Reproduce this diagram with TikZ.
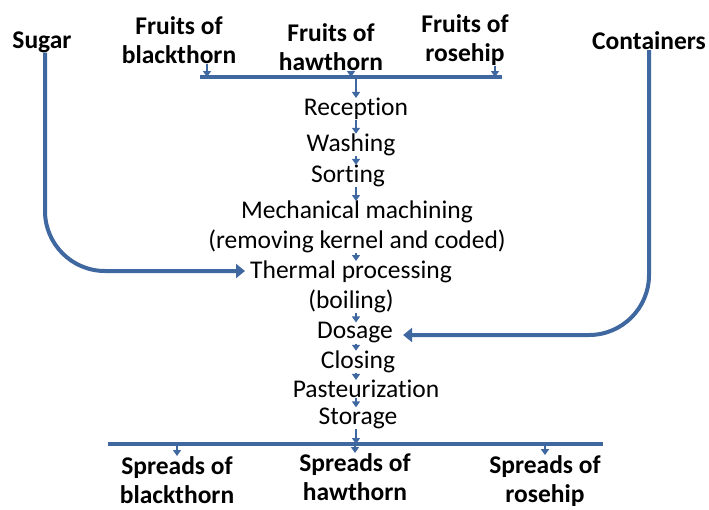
\documentclass[tikz,border=0pt]{standalone}
\usepackage{fontspec}
\setmainfont{Carlito}[Ligatures=NoCommon]
\usetikzlibrary{arrows.meta, positioning}
\definecolor{flowblue}{RGB}{64,104,160}
\tikzset{
  stage/.style={inner sep=0pt, align=center, font=\fontsize{25.5}{29.5}\selectfont},
  source/.style={stage, font=\fontsize{25.5}{29.5}\selectfont\bfseries},
  tick/.style={flowblue, line width=2.4pt, -{Triangle[length=6pt,width=8pt]}},
  bar/.style={flowblue, line width=4pt},
  feed/.style={flowblue, line width=4pt, rounded corners=60pt, -{Triangle[length=9pt,width=14pt]}},
}

\begin{document}
\begin{tikzpicture}[x=1pt, y=-1pt]
    \useasboundingbox (0,0) rectangle (709,509);

    % Raw materials
    \node[source] (sugar) at (42,42) {Sugar};
    \node[source] (fblack) at (179,40) {Fruits of\\blackthorn};
    \node[source] (fhaw) at (331,47) {Fruits of\\hawthorn};
    \node[source] (frose) at (465,40) {Fruits of\\rosehip};
    \node[source] (contain) at (649,41) {Containers};

    % Collecting bar
    \coordinate (topL) at (200,77);
    \coordinate (topR) at (502,77);
    \coordinate (spine) at (356,0);
    \draw[bar] (topL) -- (topR);
    \draw[tick] ([xshift=28pt]fblack.south) -- ([xshift=28pt]fblack.south |- topL);
    \draw[tick] ([xshift=20pt]fhaw.south) -- ([xshift=20pt]fhaw.south |- topL);
    \draw[tick] ([xshift=30pt]frose.south) -- ([xshift=30pt]frose.south |- topL);

    % Process steps
    \node[stage] (recept) at (356,109) {Reception};
    \node[stage] (wash) at (351,145) {Washing};
    \node[stage] (sort) at (348,176) {Sorting};
    \node[stage] (mech) at (357,227) {Mechanical machining\\(removing kernel and coded)};
    \node[stage] (thermal) at (351,287) {Thermal processing\\(boiling)};
    \node[stage] (dose) at (355,333) {Dosage};
    \node[stage] (close) at (358,362) {Closing};
    \node[stage] (pasteur) at (366,389) {Pasteurization};
    \node[stage] (store) at (358,418) {Storage};

    \draw[tick] ([yshift=-2pt]topL -| recept) -- (recept.north);
    \draw[tick] (recept.south -| spine) -- (wash.north -| spine);
    \draw[tick] (wash.south -| spine) -- (sort.north -| spine);
    \draw[tick] (sort.south -| spine) -- (mech.north -| spine);
    \draw[tick] (mech.south -| spine) -- (thermal.north -| spine);
    \draw[tick] (thermal.south -| spine) -- (dose.north -| spine);
    \draw[tick] (dose.south -| spine) -- (close.north -| spine);
    \draw[tick] (close.south -| spine) -- (pasteur.north -| spine);
    \draw[tick] (pasteur.south -| spine) -- (store.north -| spine);

    % Side feeds
    \draw[feed] ([xshift=3pt]sugar.south) |- ([xshift=-5pt,yshift=16pt]thermal.west);
    \draw[feed] (contain.south) |- ([xshift=10pt,yshift=-2pt]dose.east);

    % Products
    \coordinate (botL) at (108,444);
    \coordinate (botR) at (603,444);
    \draw[bar] (botL) -- (botR);
    \draw[tick] (store.south -| spine) -- (botL -| spine);

    \node[source] (sblack) at (177,480) {Spreads of\\blackthorn};
    \node[source] (shaw) at (355,477) {Spreads of\\hawthorn};
    \node[source] (srose) at (545,481) {Spreads of\\rosehip};

    \draw[tick] ([yshift=-2pt]botL -| sblack) -- (sblack.north);
    \draw[tick] ([yshift=-2pt]botL -| shaw) -- (shaw.north);
    \draw[tick] ([yshift=-2pt]botL -| srose) -- (srose.north);
\end{tikzpicture}
\end{document}
